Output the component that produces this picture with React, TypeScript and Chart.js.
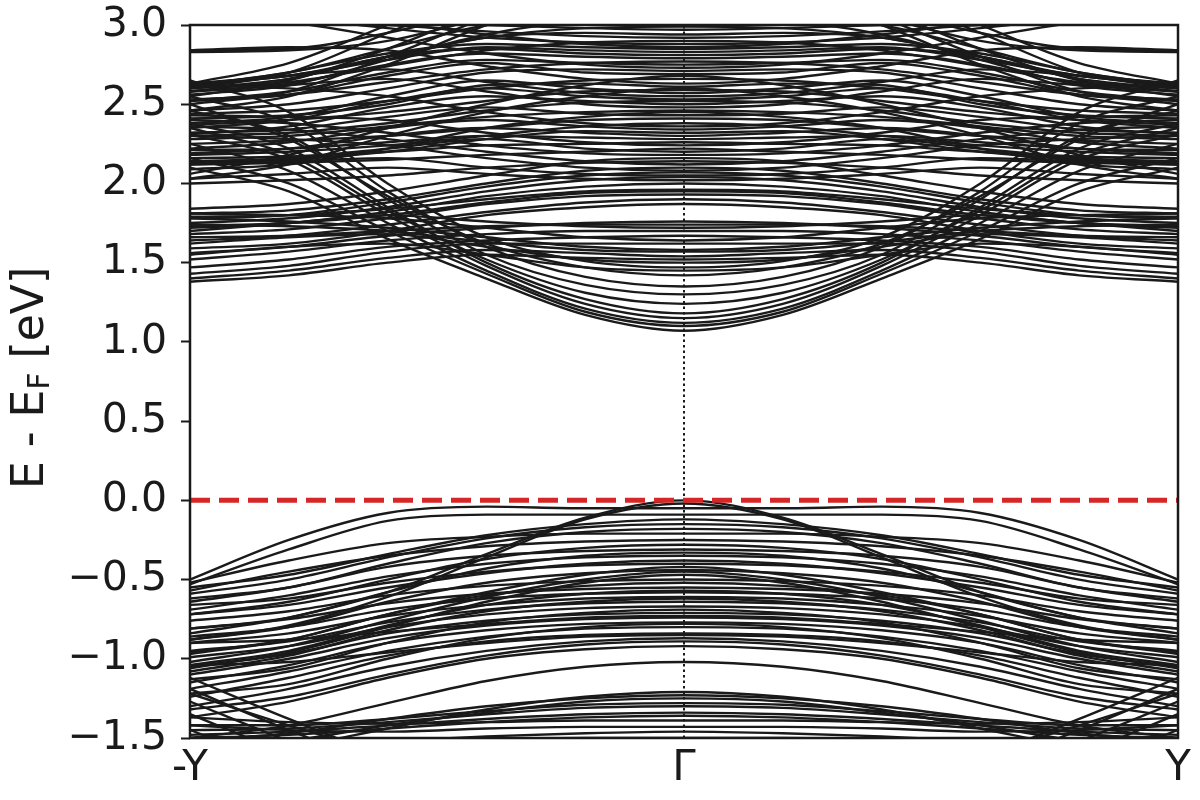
import React, { useEffect, useRef } from "react";
import { Chart, registerables } from "chart.js";

Chart.register(...registerables);

// k-path sampling from Γ (0) to Y (1); the -Y side is the mirror image
const kHalf = [0, 0.2, 0.4, 0.6, 0.8, 1.0];
const kTickValues = [-1, 0, 1];
const kTickLabels = ["-Y", "Γ", "Y"];
const energyTicks = [-1.5, -1.0, -0.5, 0.0, 0.5, 1.0, 1.5, 2.0, 2.5, 3.0];
const fermiLevel = [0, 0];
const fermiK = [-1, 1];
const gammaLineE = [-1.5, 3.0];

// valence bands: energies (eV) at kHalf
const valenceBands = [
  [0.0, -0.11, -0.34, -0.58, -0.74, -0.84],
  [-0.02, -0.12, -0.36, -0.61, -0.79, -0.88],
  [-0.05, -0.05, -0.04, -0.08, -0.25, -0.5],
  [-0.09, -0.09, -0.09, -0.13, -0.31, -0.53],
  [-0.12, -0.15, -0.22, -0.34, -0.47, -0.55],
  [-0.15, -0.17, -0.24, -0.36, -0.5, -0.59],
  [-0.18, -0.2, -0.27, -0.4, -0.55, -0.62],
  [-0.21, -0.21, -0.23, -0.27, -0.38, -0.52],
  [-0.25, -0.26, -0.29, -0.35, -0.45, -0.57],
  [-0.28, -0.3, -0.37, -0.5, -0.64, -0.72],
  [-0.31, -0.32, -0.35, -0.42, -0.55, -0.64],
  [-0.33, -0.35, -0.43, -0.58, -0.74, -0.81],
  [-0.35, -0.36, -0.4, -0.48, -0.6, -0.69],
  [-0.38, -0.4, -0.46, -0.55, -0.66, -0.72],
  [-0.4, -0.41, -0.45, -0.52, -0.62, -0.66],
  [-0.42, -0.47, -0.58, -0.72, -0.88, -0.96],
  [-0.44, -0.46, -0.52, -0.64, -0.8, -0.88],
  [-0.45, -0.5, -0.61, -0.76, -0.92, -1.02],
  [-0.47, -0.52, -0.64, -0.8, -0.96, -1.06],
  [-0.5, -0.51, -0.54, -0.6, -0.7, -0.76],
  [-0.52, -0.54, -0.6, -0.72, -0.88, -0.97],
  [-0.55, -0.56, -0.59, -0.65, -0.75, -0.81],
  [-0.57, -0.59, -0.66, -0.79, -0.95, -1.04],
  [-0.58, -0.59, -0.62, -0.69, -0.8, -0.86],
  [-0.61, -0.62, -0.66, -0.73, -0.84, -0.9],
  [-0.62, -0.64, -0.7, -0.82, -0.98, -1.08],
  [-0.64, -0.65, -0.69, -0.77, -0.89, -0.95],
  [-0.67, -0.68, -0.72, -0.8, -0.92, -0.99],
  [-0.69, -0.71, -0.77, -0.9, -1.06, -1.13],
  [-0.71, -0.72, -0.76, -0.84, -0.97, -1.05],
  [-0.73, -0.74, -0.78, -0.83, -0.88, -0.9],
  [-0.74, -0.75, -0.79, -0.87, -1.0, -1.1],
  [-0.77, -0.78, -0.82, -0.9, -1.04, -1.15],
  [-0.78, -0.8, -0.87, -1.0, -1.16, -1.22],
  [-0.8, -0.81, -0.86, -0.95, -1.08, -1.19],
  [-0.84, -0.85, -0.89, -0.98, -1.12, -1.24],
  [-0.85, -0.86, -0.9, -0.96, -1.02, -1.04],
  [-0.87, -0.89, -0.95, -1.05, -1.19, -1.3],
  [-0.89, -0.91, -0.98, -1.1, -1.24, -1.32],
  [-0.92, -0.94, -1.0, -1.12, -1.27, -1.37],
  [-1.02, -1.05, -1.14, -1.28, -1.42, -1.5],
  [-1.21, -1.24, -1.32, -1.44, -1.56, -1.62],
  [-1.23, -1.25, -1.3, -1.38, -1.47, -1.52],
  [-1.25, -1.27, -1.34, -1.42, -1.52, -1.58],
  [-1.28, -1.29, -1.33, -1.38, -1.42, -1.42],
  [-1.3, -1.31, -1.35, -1.4, -1.44, -1.45],
  [-1.34, -1.35, -1.38, -1.42, -1.46, -1.48],
  [-1.36, -1.37, -1.4, -1.44, -1.48, -1.5],
  [-1.39, -1.39, -1.4, -1.41, -1.4, -1.37],
  [-1.43, -1.43, -1.44, -1.46, -1.45, -1.42],
  [-1.46, -1.47, -1.49, -1.52, -1.56, -1.58],
  [-1.5, -1.5, -1.51, -1.53, -1.55, -1.55],
  [-1.9, -1.86, -1.76, -1.6, -1.42, -1.22],
  [-1.95, -1.9, -1.8, -1.62, -1.38, -1.12],
  [-2.0, -1.95, -1.85, -1.68, -1.45, -1.19],
  [-2.05, -2.0, -1.9, -1.74, -1.52, -1.27],
  [-2.1, -2.05, -1.95, -1.8, -1.6, -1.35],
  [-2.15, -2.1, -2.0, -1.86, -1.68, -1.45],
];

// conduction bands: energies (eV) at kHalf
const conductionBands = [
  [1.07, 1.17, 1.4, 1.65, 1.95, 2.1],
  [1.1, 1.19, 1.43, 1.7, 2.0, 2.16],
  [1.12, 1.21, 1.45, 1.75, 2.08, 2.25],
  [1.15, 1.24, 1.48, 1.8, 2.15, 2.31],
  [1.18, 1.27, 1.5, 1.85, 2.22, 2.38],
  [1.24, 1.31, 1.52, 1.83, 2.18, 2.35],
  [1.3, 1.36, 1.55, 1.9, 2.3, 2.46],
  [1.35, 1.41, 1.6, 1.95, 2.38, 2.55],
  [1.42, 1.47, 1.62, 1.92, 2.28, 2.5],
  [1.45, 1.47, 1.55, 1.62, 1.6, 1.55],
  [1.47, 1.51, 1.66, 2.0, 2.45, 2.65],
  [1.5, 1.52, 1.6, 1.68, 1.66, 1.62],
  [1.52, 1.53, 1.55, 1.5, 1.42, 1.38],
  [1.54, 1.56, 1.58, 1.53, 1.45, 1.4],
  [1.57, 1.58, 1.63, 1.7, 1.73, 1.74],
  [1.58, 1.6, 1.66, 1.72, 1.76, 1.78],
  [1.62, 1.62, 1.62, 1.57, 1.48, 1.43],
  [1.64, 1.66, 1.72, 1.78, 1.8, 1.81],
  [1.67, 1.66, 1.64, 1.6, 1.52, 1.47],
  [1.7, 1.7, 1.68, 1.64, 1.57, 1.52],
  [1.72, 1.73, 1.76, 1.8, 1.75, 1.7],
  [1.74, 1.74, 1.73, 1.7, 1.67, 1.66],
  [1.76, 1.75, 1.72, 1.67, 1.6, 1.56],
  [1.87, 1.85, 1.8, 1.7, 1.62, 1.59],
  [1.9, 1.88, 1.82, 1.74, 1.67, 1.64],
  [1.93, 1.92, 1.87, 1.78, 1.71, 1.68],
  [1.95, 1.94, 1.88, 1.8, 1.75, 1.73],
  [1.96, 1.95, 1.9, 1.84, 1.8, 1.79],
  [2.0, 1.98, 1.92, 1.82, 1.75, 1.72],
  [2.02, 2.03, 2.06, 2.1, 2.06, 2.03],
  [2.04, 2.02, 1.95, 1.85, 1.78, 1.75],
  [2.05, 2.06, 2.1, 2.16, 2.14, 2.12],
  [2.07, 2.05, 1.98, 1.88, 1.8, 1.78],
  [2.08, 2.1, 2.16, 2.24, 2.28, 2.3],
  [2.1, 2.08, 2.0, 1.9, 1.83, 1.81],
  [2.12, 2.14, 2.2, 2.28, 2.34, 2.36],
  [2.14, 2.13, 2.1, 2.05, 2.02, 2.0],
  [2.16, 2.14, 2.05, 1.95, 1.87, 1.84],
  [2.18, 2.19, 2.24, 2.32, 2.38, 2.4],
  [2.2, 2.22, 2.28, 2.22, 2.16, 2.14],
  [2.22, 2.2, 2.18, 2.15, 2.13, 2.12],
  [2.24, 2.26, 2.32, 2.4, 2.42, 2.43],
  [2.26, 2.25, 2.24, 2.2, 2.17, 2.16],
  [2.28, 2.29, 2.3, 2.26, 2.22, 2.21],
  [2.3, 2.32, 2.35, 2.3, 2.22, 2.19],
  [2.32, 2.33, 2.28, 2.2, 2.15, 2.13],
  [2.34, 2.36, 2.4, 2.35, 2.26, 2.22],
  [2.36, 2.38, 2.45, 2.55, 2.6, 2.62],
  [2.38, 2.36, 2.3, 2.24, 2.2, 2.18],
  [2.41, 2.4, 2.35, 2.3, 2.27, 2.25],
  [2.43, 2.44, 2.48, 2.42, 2.34, 2.32],
  [2.45, 2.42, 2.35, 2.22, 2.12, 2.09],
  [2.46, 2.45, 2.42, 2.36, 2.3, 2.28],
  [2.48, 2.5, 2.58, 2.66, 2.62, 2.58],
  [2.5, 2.52, 2.55, 2.48, 2.36, 2.31],
  [2.52, 2.51, 2.46, 2.38, 2.32, 2.3],
  [2.53, 2.55, 2.6, 2.52, 2.4, 2.35],
  [2.55, 2.57, 2.64, 2.72, 2.68, 2.63],
  [2.57, 2.6, 2.65, 2.55, 2.42, 2.38],
  [2.59, 2.58, 2.52, 2.45, 2.4, 2.37],
  [2.6, 2.55, 2.45, 2.3, 2.12, 2.03],
  [2.61, 2.63, 2.62, 2.5, 2.43, 2.41],
  [2.63, 2.66, 2.74, 2.84, 2.86, 2.84],
  [2.66, 2.65, 2.6, 2.52, 2.46, 2.44],
  [2.68, 2.62, 2.5, 2.35, 2.18, 2.06],
  [2.69, 2.7, 2.76, 2.68, 2.56, 2.52],
  [2.71, 2.72, 2.7, 2.6, 2.5, 2.46],
  [2.73, 2.75, 2.82, 2.92, 3.02, 3.08],
  [2.75, 2.76, 2.78, 2.7, 2.58, 2.52],
  [2.77, 2.76, 2.72, 2.64, 2.56, 2.53],
  [2.79, 2.8, 2.82, 2.75, 2.63, 2.58],
  [2.81, 2.82, 2.85, 2.8, 2.66, 2.58],
  [2.83, 2.84, 2.86, 2.78, 2.68, 2.62],
  [2.85, 2.86, 2.88, 2.82, 2.7, 2.61],
  [2.86, 2.88, 2.94, 3.02, 3.1, 3.12],
  [2.88, 2.89, 2.92, 2.98, 3.05, 3.1],
  [2.9, 2.89, 2.84, 2.74, 2.64, 2.6],
  [2.92, 2.93, 2.96, 3.0, 3.02, 3.05],
  [2.94, 2.95, 2.92, 2.8, 2.68, 2.63],
  [2.97, 2.98, 3.0, 3.02, 3.05, 3.1],
  [2.99, 2.98, 2.92, 2.8, 2.66, 2.6],
  [3.05, 3.03, 2.94, 2.78, 2.62, 2.56],
  [3.1, 3.08, 3.0, 2.85, 2.7, 2.62],
  [3.3, 3.2, 3.0, 2.75, 2.55, 2.46],
  [3.3, 3.2, 3.05, 2.9, 2.84, 2.83],
  [3.35, 3.25, 3.1, 2.95, 2.85, 2.84],
  [3.4, 3.3, 3.05, 2.8, 2.58, 2.5],
  [3.5, 3.35, 3.1, 2.85, 2.65, 2.55],
  [3.5, 3.4, 3.2, 2.95, 2.7, 2.6],
  [3.6, 3.45, 3.25, 3.0, 2.76, 2.63],
];

const FONT = "DejaVu Sans";
const INK = "#1a1a1a";

function mirrorBand(half: number[]) {
  const pts: { x: number; y: number }[] = [];
  for (let j = kHalf.length - 1; j >= 1; j--) pts.push({ x: -kHalf[j], y: half[j] });
  for (let j = 0; j < kHalf.length; j++) pts.push({ x: kHalf[j], y: half[j] });
  return pts;
}

const framePlugin = {
  id: "frameAndLabel",
  afterDraw(chart: any) {
    const { ctx, chartArea } = chart;
    const { left, top, right, bottom } = chartArea;
    ctx.save();
    ctx.strokeStyle = INK;
    ctx.lineWidth = 2.5;
    ctx.strokeRect(left, top, right - left, bottom - top);

    // rotated y-axis title with subscript
    const big = 44;
    const small = 30;
    const parts = [
      { t: "E - E", s: big, dy: 0 },
      { t: "F", s: small, dy: 6 },
      { t: " [eV]", s: big, dy: 0 },
    ];
    let total = 0;
    for (const p of parts) {
      ctx.font = `${p.s}px '${FONT}'`;
      total += ctx.measureText(p.t).width;
    }
    ctx.translate(43, 378);
    ctx.rotate(-Math.PI / 2);
    ctx.fillStyle = INK;
    ctx.textBaseline = "alphabetic";
    ctx.textAlign = "left";
    let x = -total / 2;
    for (const p of parts) {
      ctx.font = `${p.s}px '${FONT}'`;
      ctx.fillText(p.t, x, p.dy);
      x += ctx.measureText(p.t).width;
    }
    ctx.restore();
  },
};

export default function App() {
  const ref = useRef<HTMLCanvasElement | null>(null);

  useEffect(() => {
    if (!ref.current) return;
    const bandSets = [...valenceBands, ...conductionBands].map((b) => ({
      data: mirrorBand(b),
      borderColor: INK,
      borderWidth: 2.4,
      pointRadius: 0,
      cubicInterpolationMode: "monotone" as const,
      fill: false,
    }));
    const datasets: any[] = [
      {
        data: fermiK.map((k, i) => ({ x: k, y: fermiLevel[i] })),
        borderColor: "#d62728",
        borderWidth: 5,
        borderDash: [20, 9],
        pointRadius: 0,
        fill: false,
      },
      {
        data: gammaLineE.map((e) => ({ x: 0, y: e })),
        borderColor: INK,
        borderWidth: 2,
        borderDash: [2.5, 3],
        pointRadius: 0,
        fill: false,
      },
      ...bandSets,
    ];

    const chart = new Chart(ref.current, {
      type: "line",
      data: { datasets },
      plugins: [framePlugin],
      options: {
        animation: false,
        responsive: false,
        maintainAspectRatio: false,
        layout: { padding: { top: 25, right: 22, left: 0, bottom: 0 } },
        plugins: { legend: { display: false }, tooltip: { enabled: false } },
        scales: {
          x: {
            type: "linear",
            min: -1,
            max: 1,
            afterBuildTicks: (s: any) => {
              s.ticks = kTickValues.map((v) => ({ value: v }));
            },
            afterFit: (s: any) => {
              s.height = 62;
              s.paddingLeft = 0;
              s.paddingRight = 0;
            },
            ticks: {
              autoSkip: false,
              maxRotation: 0,
              padding: 6,
              color: INK,
              font: { family: FONT, size: 42 },
              callback: (v: any) => kTickLabels[kTickValues.indexOf(Number(v))] ?? "",
            },
            grid: { display: false, drawTicks: false },
            border: { display: false },
          },
          y: {
            type: "linear",
            min: -1.5,
            max: 3.0,
            afterBuildTicks: (s: any) => {
              s.ticks = energyTicks.map((v) => ({ value: v }));
            },
            afterFit: (s: any) => {
              s.width = 190;
              s.paddingTop = 0;
              s.paddingBottom = 0;
            },
            ticks: {
              padding: 14,
              color: INK,
              font: { family: FONT, size: 41 },
              callback: (v: any) => Number(v).toFixed(1).replace("-", "\u2212"),
            },
            grid: {
              drawOnChartArea: false,
              drawTicks: true,
              tickLength: 9,
              tickWidth: 2,
              tickColor: INK,
            },
            border: { display: false },
          },
        },
      },
    });
    return () => chart.destroy();
  }, []);

  return (
    <div style={{ position: "absolute", left: 0, top: 0, width: 1200, height: 800, background: "#fff" }}>
      <canvas ref={ref} width={1200} height={800} style={{ display: "block" }} />
    </div>
  );
}
